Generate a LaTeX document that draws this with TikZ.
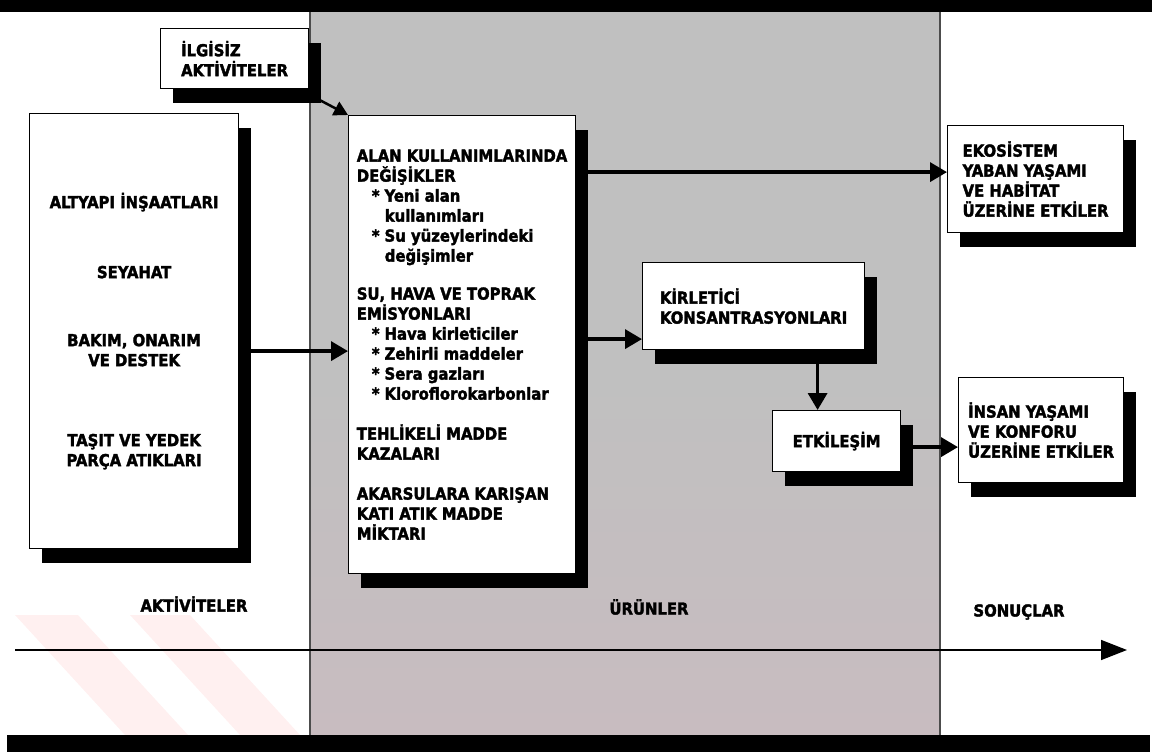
\documentclass[tikz,border=0pt]{standalone}
\usepackage{fontspec}
\setmainfont{DejaVu Sans Condensed}[BoldFeatures={FakeBold=2}]
\usetikzlibrary{arrows.meta, shadows, positioning}
\definecolor{zonegray}{RGB}{192,192,192}
\definecolor{zonepink}{RGB}{200,188,192}
\tikzset{
         mybox/.style={draw, line width=1.2pt, fill=white, anchor=north west, align=left,
                       inner xsep=5pt, inner ysep=0pt, font=\bfseries\fontsize{16.5}{20}\selectfont,
                       drop shadow={shadow xshift=12pt, shadow yshift=-14pt, fill=black, opacity=1}},
         myflow/.style={line width=3.5pt, -{Triangle[length=17pt, width=19pt]}},
         mythin/.style={line width=2.5pt, -{Triangle[length=14pt, width=15pt]}},
         mylabel/.style={font=\bfseries\fontsize{16.5}{18}\selectfont},
         mystripe/.style={fill=red!6}
      }
\newcommand{\bul}{\hspace*{15pt}*\hspace{5pt}}
\newcommand{\cont}{\hspace*{28pt}}

\begin{document}
\begin{tikzpicture}[x=1pt, y=-1pt]
   \useasboundingbox (0,0) rectangle (1157,754);
   % faint stripes at the lower left
   \fill[mystripe] (15,615) -- (78,615) -- (188,735) -- (125,735) -- cycle;
   \fill[mystripe] (130,615) -- (190,615) -- (300,735) -- (240,735) -- cycle;
   % zones
   \shade[top color=zonegray, bottom color=zonepink, middle color=zonegray] (310,12) rectangle (940,735);
   \draw[line width=1.5pt, black!70] (310,12) -- (310,735);
   \draw[line width=1.5pt, black!70] (940,12) -- (940,735);
   \fill (0,0) rectangle (1152,12);
   \fill (7,735) rectangle (1150,752);
   % time line
   \coordinate (tstart) at (15,650);
   \coordinate (tend) at (1127,650);
   \draw[line width=1.5pt, -{Triangle[length=26pt, width=20pt]}] (tstart) -- (tend);

   % boxes
   \node[mybox, minimum width=148pt, minimum height=60pt] (ilgisiz) at (160,28)
        {İLGİSİZ\\ AKTİVİTELER};
   \node[mybox, align=center, minimum width=209pt, minimum height=435pt] (aktivite) at (29,113)
        {ALTYAPI İNŞAATLARI\\[50pt] SEYAHAT\\[48pt] BAKIM, ONARIM\\ VE DESTEK\\[60pt]
         TAŞIT VE YEDEK\\ PARÇA ATIKLARI};
   \node[mybox, minimum width=227pt, minimum height=458pt] (urun) at (348,115)
        {ALAN KULLANIMLARINDA\\
         DEĞİŞİKLER\\
         \bul Yeni alan\\
         \cont kullanımları\\
         \bul Su yüzeylerindeki\\
         \cont değişimler\\[18pt]
         SU, HAVA VE TOPRAK\\
         EMİSYONLARI\\
         \bul Hava kirleticiler\\
         \bul Zehirli maddeler\\
         \bul Sera gazları\\
         \bul Kloroflorokarbonlar\\[20pt]
         TEHLİKELİ MADDE\\
         KAZALARI\\[20pt]
         AKARSULARA KARIŞAN\\
         KATI ATIK MADDE\\
         MİKTARI};
   \node[mybox, minimum width=222pt, minimum height=87pt] (kirletici) at (642,262)
        {KİRLETİCİ\\ KONSANTRASYONLARI};
   \node[mybox, minimum width=128pt, minimum height=61pt] (etkilesim) at (772,410)
        {ETKİLEŞİM};
   \node[mybox, minimum width=176pt, minimum height=107pt] (ekosistem) at (947,125)
        {EKOSİSTEM\\ YABAN YAŞAMI\\ VE HABİTAT\\ ÜZERİNE ETKİLER};
   \node[mybox, minimum width=165pt, minimum height=105pt] (insan) at (958,377)
        {İNSAN YAŞAMI\\ VE KONFORU\\ ÜZERİNE ETKİLER};

   % zone labels
   \node[mylabel] (aktlabel) at (194,604) {AKTİVİTELER};
   \node[mylabel] (urunlabel) at (649,607) {ÜRÜNLER};
   \node[mylabel] (sonlabel) at (1019,612) {SONUÇLAR};

   % connectors
   \draw[mythin] ([xshift=-10pt]ilgisiz.south east) -- (urun.north west);
   \draw[myflow] ([yshift=-20pt]aktivite.east) -- ([yshift=-20pt]aktivite.east -| urun.west);
   \draw[myflow] ([yshift=7pt]urun.east |- ekosistem.west) -- ([yshift=7pt]ekosistem.west);
   \draw[myflow] ([yshift=-33pt]urun.east |- kirletici.west) -- ([yshift=-33pt]kirletici.west);
   \draw[myflow] ([xshift=-19pt]etkilesim.north |- kirletici.south) -- ([xshift=-19pt]etkilesim.north);
   \draw[myflow] ([yshift=-6pt]etkilesim.east) -- ([yshift=-6pt]etkilesim.east -| insan.west);
\end{tikzpicture}
\end{document}
